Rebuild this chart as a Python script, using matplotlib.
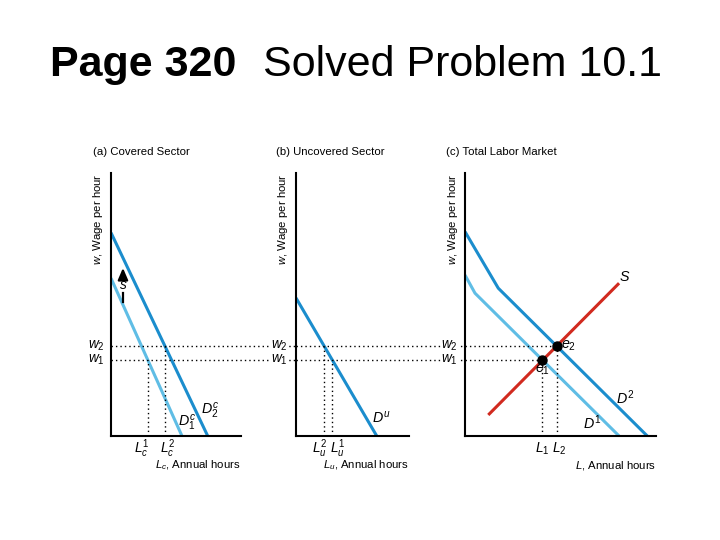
import matplotlib
matplotlib.use("Agg")
import matplotlib.pyplot as plt

plt.rcParams['font.family'] = ['Liberation Sans', 'DejaVu Sans']
plt.rcParams['mathtext.fontset'] = 'custom'
plt.rcParams['mathtext.rm'] = 'Liberation Sans'
plt.rcParams['mathtext.it'] = 'Liberation Sans:italic'
plt.rcParams['mathtext.bf'] = 'Liberation Sans:bold'

# wages, same scale in every panel
w1, w2 = 2.89, 3.42

# (a) covered sector: demand endpoints (L, w)
dc1_L = [0, 5.46]
dc1_w = [6.00, 0]
dc2_L = [0, 7.44]
dc2_w = [7.73, 0]
Lc1, Lc2 = 2.83, 4.15
shift_L = 0.92
shift_w = [5.10, 5.74, 6.39]   # arrow bottom, "s" label, arrow tip

# (b) uncovered sector
du_L = [0, 6.21]
du_w = [5.25, 0]
Lu2, Lu1 = 2.17, 2.79

# (c) total labor market
d1_L = [0, 0.77, 11.85]
d1_w = [6.12, 5.43, 0]
d2_L = [0, 2.56, 14.02]
d2_w = [7.77, 5.62, 0]
s_L = [1.79, 11.85]
s_w = [0.80, 5.81]
L1, L2 = 5.95, 7.05

dark = '#1b8dcd'
light = '#5fbde5'
red = '#d12a1f'
dot = (0, (1, 2.2))

fig = plt.figure(figsize=(7.2, 5.4), dpi=100)
W, H = 720, 540
bot, top = 436, 173


def make_ax(x0, x1, xmax):
    ax = fig.add_axes([x0 / W, 1 - bot / H, (x1 - x0) / W, (bot - top) / H])
    ax.set_xlim(0, xmax)
    ax.set_ylim(0, 10)
    ax.patch.set_visible(False)
    for s in ['top', 'right']:
        ax.spines[s].set_visible(False)
    for s in ['left', 'bottom']:
        ax.spines[s].set_linewidth(1.5)
    ax.set_xticks([])
    ax.set_yticks([])
    return ax


axa = make_ax(111, 241, 10.0)
axb = make_ax(296, 409, 8.69)
axc = make_ax(465, 656, 14.69)

fs = 8.2     # plain text
fm = 9.8     # math labels


def common(ax, title, title_dx, xlabel, ylab_dx, wl_dx):
    ax.annotate(title, xy=(0, 1), xycoords='axes fraction', xytext=(title_dx, 21),
                textcoords='offset pixels', ha='left', va='center', fontsize=fs)
    ax.annotate('$w$, Wage per hour', xy=(0, 1), xycoords='axes fraction',
                xytext=(ylab_dx, 0), textcoords='offset pixels', rotation=90,
                ha='center', va='top', fontsize=fs)
    ax.annotate(xlabel, xy=(1, 0), xycoords='axes fraction', xytext=(0, -29),
                textcoords='offset pixels', ha='right', va='center', fontsize=fs)
    for w, lab in [(w2, '$w_2$'), (w1, '$w_1$')]:
        ax.annotate(lab, xy=(0, w), xycoords=('axes fraction', 'data'),
                    xytext=(wl_dx, 0), textcoords='offset pixels', ha='right',
                    va='center', fontsize=fm,
                    bbox=dict(facecolor='white', edgecolor='none', pad=0.4))


def xtick(ax, x, lab, dx=0, ha='center'):
    ax.annotate(lab, xy=(x, 0), xytext=(dx, -13), textcoords='offset pixels',
                ha=ha, va='center', fontsize=fm)


def reach(ax, nxt):
    # horizontal extent in data units from ax's y-axis to the next panel's y-axis
    pa, pn = ax.get_position(), nxt.get_position()
    return (pn.x0 - pa.x0) / pa.width * ax.get_xlim()[1]


# ---- (a)
common(axa, '(a) Covered Sector', -18, '$L_c$, Annual hours', -13, -6)
axa.plot(dc1_L, dc1_w, color=light, lw=2.2, solid_capstyle='butt')
axa.plot(dc2_L, dc2_w, color=dark, lw=2.2, solid_capstyle='butt')
ext = reach(axa, axb)
axa.plot([0, ext], [w2, w2], color='k', lw=1, ls=dot, clip_on=False)
axa.plot([0, ext], [w1, w1], color='k', lw=1, ls=dot, clip_on=False)
axa.plot([Lc1, Lc1], [0, w1], color='k', lw=1, ls=dot)
axa.plot([Lc2, Lc2], [0, w2], color='k', lw=1, ls=dot)
xtick(axa, Lc1, '$L_c^1$', dx=2, ha='right')
xtick(axa, Lc2, '$L_c^2$', dx=-5, ha='left')
axa.annotate('', xy=(shift_L, shift_w[2]), xytext=(shift_L, shift_w[1] + 0.35),
             arrowprops=dict(arrowstyle='-|>,head_length=0.7,head_width=0.3',
                             color='k', lw=1.6, shrinkA=0, shrinkB=0))
axa.plot([shift_L, shift_L], [shift_w[0], shift_w[1] - 0.3], color='k', lw=1.6)
axa.text(shift_L, shift_w[1], '$s$', ha='center', va='center', fontsize=fm)
axa.text(7.6, 0.95, '$D_2^c$', ha='center', va='center', fontsize=fm + 0.5)
axa.text(5.82, 0.50, '$D_1^c$', ha='center', va='center', fontsize=fm + 0.5)

# ---- (b)
common(axb, '(b) Uncovered Sector', -20, '$L_u$, Annual hours', -13, -8)
axb.plot(du_L, du_w, color=dark, lw=2.2, solid_capstyle='butt')
ext = reach(axb, axc)
axb.plot([0, ext], [w2, w2], color='k', lw=1, ls=dot, clip_on=False)
axb.plot([0, ext], [w1, w1], color='k', lw=1, ls=dot, clip_on=False)
axb.plot([Lu2, Lu2], [0, w2], color='k', lw=1, ls=dot)
axb.plot([Lu1, Lu1], [0, w1], color='k', lw=1, ls=dot)
xtick(axb, Lu2, '$L_u^2$', dx=3, ha='right')
xtick(axb, Lu1, '$L_u^1$', dx=-2, ha='left')
axb.text(6.59, 0.70, '$D^u$', ha='center', va='center', fontsize=fm + 0.5)

# ---- (c)
common(axc, '(c) Total Labor Market', -19, '$L$, Annual hours', -12, -7)
axc.plot(d1_L, d1_w, color=light, lw=2.2, solid_capstyle='butt')
axc.plot(d2_L, d2_w, color=dark, lw=2.2, solid_capstyle='butt')
axc.plot(s_L, s_w, color=red, lw=2.2, solid_capstyle='butt')
axc.plot([0, L2], [w2, w2], color='k', lw=1, ls=dot)
axc.plot([0, L1], [w1, w1], color='k', lw=1, ls=dot)
axc.plot([L1, L1], [0, w1], color='k', lw=1, ls=dot)
axc.plot([L2, L2], [0, w2], color='k', lw=1, ls=dot)
axc.plot([L1, L2], [w1, w2], 'o', color='k', ms=6.5, zorder=5)
xtick(axc, L1, '$L_1$')
xtick(axc, L2, '$L_2$', dx=3)
axc.text(7.38, w2, '$e_2$', ha='left', va='center', fontsize=fm + 0.5)
axc.text(L1, w1 - 0.38, '$e_1$', ha='center', va='center', fontsize=fm + 0.5)
axc.text(12.31, 6.06, '$S$', ha='center', va='center', fontsize=fm + 0.5)
axc.text(12.31, 1.44, '$D^2$', ha='center', va='center', fontsize=fm + 0.5)
axc.text(9.75, 0.52, '$D^1$', ha='center', va='center', fontsize=fm + 0.5)

# ---- slide title
fig.text(50 / W, 1 - 76.5 / H, 'Page 320', fontsize=31, fontweight='bold',
         ha='left', va='baseline')
fig.text(263 / W, 1 - 76.5 / H, 'Solved Problem 10.1', fontsize=31,
         ha='left', va='baseline')

fig.savefig('out.png', dpi=100)
